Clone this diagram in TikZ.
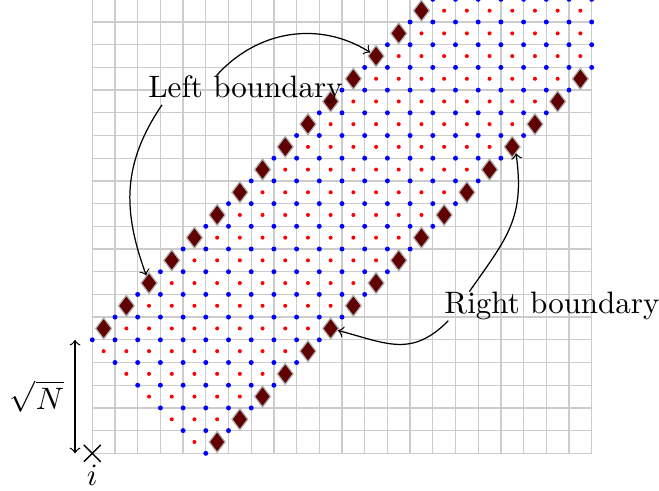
\documentclass[tikz,border=0pt]{standalone}
\usetikzlibrary{shapes.geometric,shapes.misc}
\definecolor{dmaroon}{RGB}{96,0,0}
\begin{document}
\begin{tikzpicture}[x=0.2574cm, y=0.2574cm,
  gridline/.style={gray!40, line width=0.4pt},
  dia/.style={diamond, fill=dmaroon, draw=gray!60, line width=0.4pt, inner sep=0pt, minimum width=5.3pt, minimum height=6.9pt},
  lbl/.style={inner sep=0pt},
  conn/.style={->}]
\clip (-4.066,-1.616) rectangle (24.965,19.97);
\draw[gridline, step=1] (0,0) grid (22,20);
\foreach \x in {0,...,22}{
  \foreach \y in {0,...,20}{
    \pgfmathtruncatemacro{\s}{\x+\y}
    \pgfmathtruncatemacro{\dd}{abs(\x-\y)}
    \ifnum\s>4 \ifnum\dd<6 \fill[blue] (\x,\y) circle (0.8pt); \fi\fi
    \ifnum\x<22 \ifnum\y<20 \ifnum\s>3 \ifnum\dd<5 \fill[red] (\x+0.5,\y+0.5) circle (0.65pt); \fi\fi\fi\fi
  }
}
\foreach \k in {0,...,14} \node[dia] (L\k) at (\k+0.5,\k+5.5) {};
\foreach \k in {0,...,16} \node[dia] (R\k) at (\k+5.5,\k+0.5) {};
\node[lbl] (lb) at (6.75,16) {Left boundary};
\node[lbl] (rb) at (20.25,6.48) {Right boundary};
\draw[conn] (lb.153) to[out=48,in=148] (L12);
\draw[conn] (lb.190) to[out=236,in=110,looseness=1.05] (L2);
\draw[conn] (rb.170) to[out=55,in=-82,looseness=1.15] (R13.-60);
\draw[conn] (rb.188) to[out=225,in=-15,looseness=1.2] (R5);
\node[cross out, draw, line width=0.45pt, inner sep=0pt, minimum size=5pt] (i) at (0,0) {};
\node (ilabel) at (0,-0.95) {$i$};
\coordinate (sb) at (-0.76,0);
\coordinate (st) at (-0.76,5);
\draw[<->] (sb) -- node[left] (sq) {$\sqrt{N}$} (st);
\end{tikzpicture}
\end{document}
